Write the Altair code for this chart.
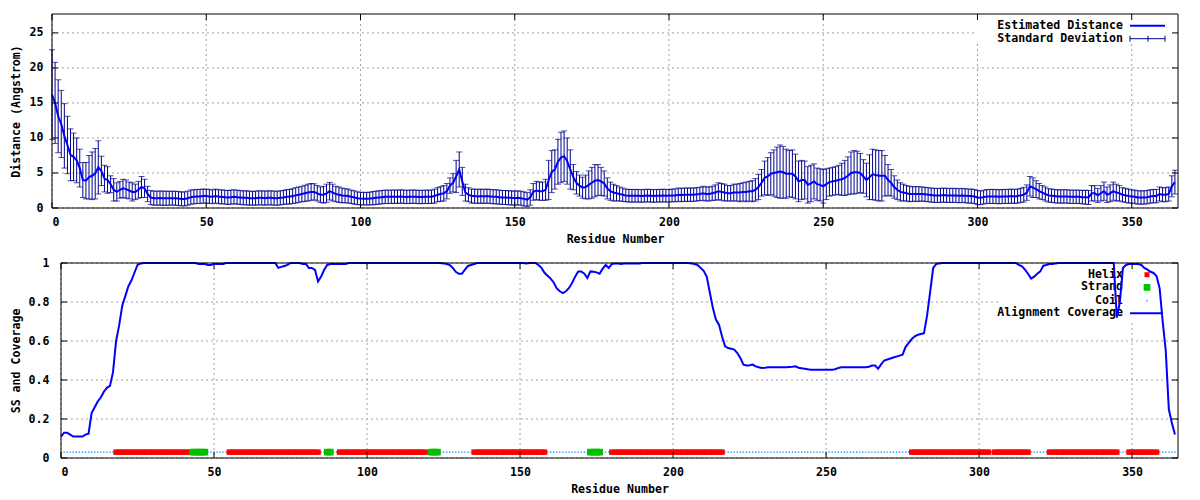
import altair as alt
import pandas as pd

# ---------------- data ----------------
MEAN_DIST = [
    16.2, 15.0, 13.1, 12.0, 10.3, 9.0, 7.6, 7.3, 6.8, 5.7,
    4.0, 3.9, 4.4, 4.6, 4.9, 5.8, 5.3, 4.2, 4.0, 3.4,
    2.6, 2.3, 2.6, 2.8, 2.7, 2.5, 2.3, 2.3, 2.6, 3.0,
    2.8, 2.0, 1.5, 1.4, 1.4, 1.42, 1.4, 1.38, 1.4, 1.4,
    1.4, 1.35, 1.3, 1.3, 1.4, 1.55, 1.6, 1.65, 1.65, 1.7,
    1.7, 1.65, 1.6, 1.7, 1.6, 1.6, 1.55, 1.5, 1.55, 1.6,
    1.55, 1.5, 1.45, 1.45, 1.4, 1.4, 1.4, 1.45, 1.45, 1.4,
    1.45, 1.45, 1.4, 1.4, 1.45, 1.5, 1.6, 1.6, 1.7, 1.8,
    1.9, 2.0, 2.1, 2.2, 2.3, 2.3, 2.1, 1.9, 1.9, 2.1,
    2.4, 2.2, 2.0, 1.9, 1.8, 1.75, 1.7, 1.6, 1.5, 1.4,
    1.35, 1.33, 1.33, 1.35, 1.4, 1.45, 1.5, 1.55, 1.6, 1.6,
    1.6, 1.62, 1.6, 1.65, 1.6, 1.58, 1.6, 1.62, 1.6, 1.57,
    1.57, 1.6, 1.6, 1.6, 1.7, 1.9, 2.0, 2.1, 2.4, 3.2,
    3.6, 4.5, 5.5, 3.8, 2.2, 1.9, 1.7, 1.7, 1.65, 1.7,
    1.65, 1.7, 1.65, 1.6, 1.6, 1.55, 1.5, 1.5, 1.45, 1.45,
    1.4, 1.45, 1.4, 1.3, 1.2, 1.5, 2.3, 2.5, 2.4, 2.4,
    2.6, 4.0, 5.2, 5.5, 6.6, 7.2, 7.4, 6.7, 5.5, 4.4,
    3.6, 3.2, 2.9, 3.0, 3.3, 3.6, 3.9, 4.0, 3.8, 3.5,
    2.8, 2.4, 2.2, 2.1, 2.0, 1.9, 1.8, 1.75, 1.75, 1.75,
    1.75, 1.72, 1.75, 1.78, 1.75, 1.72, 1.75, 1.75, 1.78, 1.75,
    1.75, 1.8, 1.8, 1.9, 1.85, 1.9, 1.9, 1.9, 1.9, 1.95,
    2.0, 2.1, 2.0, 2.0, 2.1, 2.2, 2.4, 2.3, 2.2, 2.1,
    2.1, 2.2, 2.2, 2.2, 2.3, 2.3, 2.4, 2.4, 2.6, 3.0,
    3.6, 4.3, 4.5, 4.9, 5.0, 5.1, 5.2, 5.1, 4.9, 4.9,
    4.9, 4.5, 3.8, 4.0, 4.0, 3.3, 3.5, 3.8, 3.4, 3.3,
    3.1, 3.4, 3.7, 3.8, 3.9, 4.0, 4.1, 4.3, 4.6, 5.0,
    5.1, 5.1, 5.0, 4.5, 4.0, 4.4, 4.8, 4.7, 4.6, 4.6,
    4.6, 4.0, 3.6, 3.0, 2.6, 2.3, 2.2, 2.1, 2.0, 2.0,
    2.0, 2.0, 2.0, 1.95, 1.9, 1.85, 1.8, 1.8, 1.8, 1.85,
    1.8, 1.8, 1.8, 1.8, 1.75, 1.8, 1.75, 1.7, 1.7, 1.65,
    1.5, 1.45, 1.55, 1.65, 1.65, 1.65, 1.65, 1.6, 1.65, 1.65,
    1.65, 1.7, 1.65, 1.7, 1.8, 1.9, 2.2, 3.1, 2.9, 2.7,
    2.4, 2.2, 2.0, 1.8, 1.75, 1.7, 1.65, 1.65, 1.65, 1.65,
    1.6, 1.6, 1.6, 1.6, 1.55, 1.55, 1.5, 2.1, 2.1, 1.8,
    2.1, 2.4, 1.9, 2.1, 2.4, 2.2, 2.1, 1.9, 1.8, 1.7,
    1.65, 1.6, 1.5, 1.5, 1.5, 1.55, 1.65, 1.7, 1.7, 2.0,
    1.9, 1.9, 2.0, 3.1, 3.7,
]

STD_DEV = [
    6.4, 5.8, 5.2, 4.8, 4.6, 4.1, 3.7, 3.4, 3.2, 2.7,
    2.5, 2.6, 3.1, 3.4, 3.6, 3.8, 2.1, 1.9, 1.9, 1.2,
    1.6, 1.3, 1.2, 1.3, 1.3, 1.2, 1.3, 1.1, 1.2, 1.5,
    1.3, 1.1, 1.0, 1.0, 1.0, 1.0, 1.02, 1.0, 1.0, 0.98,
    1.0, 1.0, 0.98, 1.0, 1.0, 1.02, 1.0, 1.0, 1.0, 1.0,
    1.0, 1.0, 0.98, 1.0, 1.0, 1.0, 0.98, 1.0, 1.0, 1.0,
    1.0, 0.98, 1.0, 1.0, 1.0, 0.98, 1.0, 1.0, 1.0, 1.0,
    1.0, 1.0, 1.0, 1.0, 1.0, 1.0, 1.02, 1.05, 1.05, 1.1,
    1.1, 1.1, 1.15, 1.2, 1.2, 1.15, 1.1, 1.1, 1.2, 1.3,
    1.25, 1.2, 1.1, 1.1, 1.05, 1.0, 1.0, 0.95, 0.95, 0.9,
    0.9, 0.9, 0.9, 0.9, 0.95, 0.95, 0.95, 0.95, 0.95, 0.95,
    0.95, 0.95, 0.95, 0.95, 0.95, 0.95, 0.95, 0.95, 0.95, 0.95,
    0.95, 0.95, 0.95, 0.95, 1.0, 1.0, 1.05, 1.1, 1.1, 1.1,
    1.3, 2.3, 2.5, 2.0, 1.2, 1.0, 1.0, 1.0, 1.0, 1.0,
    1.0, 1.0, 1.0, 1.0, 1.0, 1.0, 1.0, 1.0, 1.0, 1.0,
    1.0, 1.0, 1.0, 1.0, 1.0, 1.1, 1.2, 1.3, 1.3, 1.3,
    1.5, 2.8, 3.0, 2.8, 3.2, 3.6, 3.6, 3.3, 2.8, 1.8,
    1.6, 1.5, 1.5, 1.7, 2.0, 2.2, 2.3, 2.2, 2.0, 1.8,
    1.5, 1.3, 1.2, 1.1, 1.0, 0.95, 0.9, 0.9, 0.9, 0.9,
    0.9, 0.9, 0.9, 0.9, 0.9, 0.9, 0.9, 0.9, 0.9, 0.9,
    0.9, 0.9, 0.92, 0.95, 0.95, 0.95, 0.95, 0.95, 0.95, 0.95,
    0.95, 1.0, 1.0, 1.0, 1.0, 1.1, 1.2, 1.2, 1.2, 1.1,
    1.1, 1.2, 1.2, 1.3, 1.3, 1.4, 1.4, 1.5, 1.6, 1.8,
    1.9, 2.4, 2.7, 3.0, 3.3, 3.6, 3.8, 3.7, 3.5, 3.3,
    3.4, 3.2, 2.9, 2.8, 2.7, 2.6, 2.6, 2.5, 2.3, 2.3,
    2.4, 2.2, 2.0, 2.0, 2.0, 2.1, 2.3, 2.5, 2.7, 3.0,
    3.1, 3.0, 2.8, 2.4, 2.4, 3.2, 3.6, 3.6, 3.6, 3.6,
    2.9, 2.2, 1.9, 1.6, 1.4, 1.3, 1.2, 1.1, 1.1, 1.05,
    1.05, 1.05, 1.0, 1.0, 1.0, 1.0, 1.0, 1.0, 1.0, 1.0,
    1.0, 1.0, 1.0, 1.0, 1.0, 1.0, 1.0, 1.0, 1.0, 1.0,
    1.0, 0.98, 0.98, 0.98, 1.0, 1.0, 1.0, 1.0, 1.0, 1.0,
    1.0, 1.0, 1.0, 1.0, 1.0, 1.05, 1.1, 1.4, 1.4, 1.2,
    1.1, 1.0, 1.0, 0.95, 0.95, 0.95, 0.95, 0.95, 0.95, 0.95,
    0.95, 0.95, 0.95, 0.95, 0.95, 1.0, 1.0, 1.1, 1.1, 1.0,
    1.1, 1.3, 1.1, 1.2, 1.3, 1.2, 1.1, 1.0, 1.0, 1.0,
    0.95, 0.95, 0.95, 0.95, 0.95, 0.95, 0.95, 0.95, 0.95, 1.0,
    1.0, 1.0, 1.0, 1.5, 1.7,
]

COVERAGE = [
    0.11, 0.13, 0.13, 0.12, 0.11, 0.11, 0.11, 0.11, 0.12, 0.125,
    0.23, 0.26, 0.29, 0.31, 0.34, 0.36, 0.37, 0.44, 0.60, 0.68,
    0.78, 0.83, 0.88, 0.91, 0.95, 0.99, 0.997, 1.0, 1.0, 1.0,
    1.0, 1.0, 1.0, 1.0, 1.0, 1.0, 1.0, 1.0, 1.0, 1.0,
    1.0, 1.0, 1.0, 1.0, 1.0, 0.995, 0.995, 0.995, 0.99, 0.99,
    0.995, 0.995, 0.995, 0.995, 1.0, 1.0, 1.0, 1.0, 1.0, 1.0,
    1.0, 1.0, 1.0, 1.0, 1.0, 1.0, 1.0, 1.0, 1.0, 1.0,
    1.0, 0.975, 0.98, 0.985, 0.99, 1.0, 1.0, 1.0, 1.0, 0.995,
    0.995, 0.975, 0.975, 0.965, 0.905, 0.93, 0.965, 0.99, 0.995, 0.995,
    0.995, 0.995, 0.995, 0.995, 1.0, 1.0, 1.0, 1.0, 1.0, 1.0,
    1.0, 1.0, 1.0, 1.0, 1.0, 1.0, 1.0, 1.0, 1.0, 1.0,
    1.0, 1.0, 1.0, 1.0, 1.0, 1.0, 1.0, 1.0, 1.0, 1.0,
    1.0, 1.0, 1.0, 1.0, 1.0, 0.998, 0.995, 0.99, 0.975, 0.955,
    0.945, 0.945, 0.966, 0.985, 0.99, 0.995, 1.0, 1.0, 1.0, 1.0,
    1.0, 1.0, 1.0, 1.0, 1.0, 1.0, 1.0, 1.0, 1.0, 1.0,
    1.0, 1.0, 0.997, 1.0, 1.0, 1.0, 0.99, 0.975, 0.95, 0.935,
    0.92, 0.9, 0.87, 0.855, 0.846, 0.855, 0.872, 0.897, 0.93, 0.957,
    0.957, 0.945, 0.923, 0.957, 0.955, 0.952, 0.945, 0.971, 0.99, 0.974,
    0.995, 0.997, 0.997, 0.995, 0.997, 0.997, 0.997, 0.997, 0.997, 0.997,
    1.0, 1.0, 1.0, 1.0, 1.0, 1.0, 1.0, 1.0, 1.0, 1.0,
    1.0, 1.0, 1.0, 1.0, 1.0, 1.0, 0.998, 0.995, 0.99, 0.975,
    0.96, 0.93, 0.85, 0.77, 0.71, 0.684, 0.624, 0.573, 0.564, 0.56,
    0.556, 0.538, 0.513, 0.479, 0.474, 0.476, 0.479, 0.47, 0.465, 0.462,
    0.463, 0.465, 0.465, 0.465, 0.465, 0.465, 0.465, 0.466, 0.467, 0.468,
    0.47, 0.463, 0.46, 0.458, 0.455, 0.453, 0.453, 0.453, 0.453, 0.453,
    0.453, 0.453, 0.453, 0.455, 0.462, 0.465, 0.465, 0.465, 0.465, 0.465,
    0.465, 0.465, 0.465, 0.465, 0.468, 0.474, 0.474, 0.458, 0.48, 0.5,
    0.505, 0.51, 0.515, 0.52, 0.525, 0.53, 0.57, 0.59, 0.61, 0.624,
    0.632, 0.636, 0.64, 0.73, 0.85, 0.975, 0.995, 0.998, 1.0, 1.0,
    1.0, 1.0, 1.0, 1.0, 1.0, 1.0, 1.0, 1.0, 1.0, 1.0,
    1.0, 1.0, 1.0, 1.0, 1.0, 1.0, 1.0, 1.0, 1.0, 1.0,
    1.0, 1.0, 1.0, 0.99, 0.983, 0.966, 0.945, 0.92, 0.93, 0.945,
    0.957, 0.986, 0.99, 0.995, 0.995, 0.998, 1.0, 1.0, 1.0, 1.0,
    1.0, 1.0, 1.0, 1.0, 1.0, 1.0, 1.0, 1.0, 1.0, 1.0,
    1.0, 1.0, 1.0, 1.0, 1.0, 0.72, 0.80, 0.974, 0.99, 0.995,
    0.995, 0.995, 0.995, 0.99, 0.975, 0.966, 0.955, 0.949, 0.932, 0.87,
    0.70, 0.55, 0.25, 0.18, 0.12,
]

HELIX_START = [18, 55, 91, 135, 180, 278, 305, 323, 349]
HELIX_END = [42, 84, 119, 158, 216, 303, 316, 345, 358]
STRAND_START = [43, 87, 121, 173]
STRAND_END = [47, 88, 123, 176]
SS_LEVEL = 0.03

X_TICKS = [0, 50, 100, 150, 200, 250, 300, 350]
Y_TICKS_TOP = [0, 5, 10, 15, 20, 25]
Y_TICKS_BOT = [0, 0.2, 0.4, 0.6, 0.8, 1]
LEGEND_TOP = ["Estimated Distance", "Standard Deviation"]
LEGEND_BOT = ["Helix", "Strand", "Coil", "Alignment Coverage"]

# ---------------- tables ----------------
n = min(len(MEAN_DIST), len(STD_DEV))
dist_df = pd.DataFrame({"res": list(range(n)), "mean": MEAN_DIST[:n], "std": STD_DEV[:n]})
dist_df["lo"] = (dist_df["mean"] - dist_df["std"]).clip(lower=0)
dist_df["hi"] = dist_df["mean"] + dist_df["std"]

cov_df = pd.DataFrame({"res": list(range(len(COVERAGE))), "cov": COVERAGE})

ss_type = {}
for s, e in zip(HELIX_START, HELIX_END):
    for r in range(s, e + 1):
        ss_type[r] = "Helix"
for s, e in zip(STRAND_START, STRAND_END):
    for r in range(s, e + 1):
        ss_type[r] = "Strand"
ss_df = pd.DataFrame({
    "res": list(range(len(COVERAGE))),
    "ss": [ss_type.get(r, "Coil") for r in range(len(COVERAGE))],
})
ss_df["lvl"] = SS_LEVEL

xt_df = pd.DataFrame({"t": X_TICKS})
yt_top_df = pd.DataFrame({"t": Y_TICKS_TOP})
yt_bot_df = pd.DataFrame({"t": Y_TICKS_BOT})
one = pd.DataFrame({"k": [0]})

# ---------------- style / layout ----------------
FONT = "DejaVu Sans Mono"
FS = 11.6
NAVY = "#00008b"
BLUE = "#0000ff"
RED = "#ff0000"
GREEN = "#00c000"
COIL = "#1e90ff"
GRID = "#a0a0a0"

W = 1126            # plot group width (both panels end at the same right edge)
TOP_H = 194         # top panel: 0 .. 194
BOT_Y0, BOT_Y1 = 249, 444   # bottom panel
BOT_X0 = 9          # bottom panel starts 9px right of the top one
H = BOT_Y1

xs_top = alt.Scale(domain=[0, 365], range=[0, W], nice=False, zero=False)
ys_top = alt.Scale(domain=[0, 27.7], range=[TOP_H, 0], nice=False, zero=False)
xs_bot = alt.Scale(domain=[0, 365], range=[BOT_X0, W], nice=False, zero=False)
ys_bot = alt.Scale(domain=[0, 1], range=[BOT_Y1, BOT_Y0], nice=False, zero=False)


def x_axis(offset):
    return alt.Axis(orient="bottom", offset=offset, values=X_TICKS, grid=False, ticks=False,
                    tickSize=0, domain=False, labelPadding=8, title="Residue Number",
                    titlePadding=6)


def y_axis(values, title, offset, pad, extent, fmt):
    return alt.Axis(orient="left", offset=offset, values=values, grid=False, ticks=False,
                    tickSize=0, domain=False, labelPadding=pad, format=fmt,
                    minExtent=extent, maxExtent=extent, title=title, titlePadding=8)


def vgrid(xs, y0, y1, axis):
    return alt.Chart(xt_df).mark_rule(color=GRID, strokeWidth=1, strokeDash=[2, 3]).encode(
        x=alt.X("t:Q", scale=xs, axis=axis), y=alt.value(y0), y2=alt.value(y1))


def hgrid(df, ys, x0, x1, axis):
    return alt.Chart(df).mark_rule(color=GRID, strokeWidth=1, strokeDash=[2, 3]).encode(
        y=alt.Y("t:Q", scale=ys, axis=axis), x=alt.value(x0), x2=alt.value(x1))


def xticks(xs, y0, y1):
    return alt.Chart(xt_df).mark_rule(color="black", strokeWidth=1).encode(
        x=alt.X("t:Q", scale=xs, axis=None), y=alt.value(y0), y2=alt.value(y1))


def yticks(df, ys, x0, x1):
    return alt.Chart(df).mark_rule(color="black", strokeWidth=1).encode(
        y=alt.Y("t:Q", scale=ys, axis=None), x=alt.value(x0), x2=alt.value(x1))


def text_at(label, x, y):
    return alt.Chart(pd.DataFrame({"label": [label]})).mark_text(
        align="right", baseline="middle", font=FONT, fontSize=FS, fontWeight="bold", color="black"
    ).encode(x=alt.value(x), y=alt.value(y), text="label:N")


def hrule(x1, x2, y, color, w):
    return alt.Chart(one).mark_rule(color=color, strokeWidth=w).encode(
        x=alt.value(x1), x2=alt.value(x2), y=alt.value(y))


def vrule(x, y1, y2, color, w):
    return alt.Chart(one).mark_rule(color=color, strokeWidth=w).encode(
        x=alt.value(x), y=alt.value(y1), y2=alt.value(y2))


def box(x1, x2, y1, y2, **kw):
    return alt.Chart(one).mark_rect(**kw).encode(
        x=alt.value(x1), x2=alt.value(x2), y=alt.value(y1), y2=alt.value(y2))


def sym(x, y, size, color):
    return alt.Chart(one).mark_square(size=size, color=color, opacity=1).encode(
        x=alt.value(x), y=alt.value(y))


layers = []

# grids + labelled axes
layers.append(vgrid(xs_top, 0, TOP_H, x_axis(-(H - TOP_H))))
layers.append(hgrid(yt_top_df, ys_top, 0, W,
                    y_axis(Y_TICKS_TOP, "Distance (Angstrom)", 0, 9, 23, "d")))
layers.append(vgrid(xs_bot, BOT_Y0, BOT_Y1, x_axis(0)))
layers.append(hgrid(yt_bot_df, ys_bot, BOT_X0, W,
                    y_axis(Y_TICKS_BOT, "SS and Coverage", -BOT_X0, 12, 32, "~g")))

# opaque key boxes (hide the grid like the reference)
layers.append(box(925, W - 1, 1, 29, color="white"))
layers.append(box(947, W - 1, BOT_Y0 + 1, BOT_Y0 + 57, color="white"))

# ---- top panel marks ----
layers.append(alt.Chart(dist_df).mark_rule(color=NAVY, strokeWidth=1).encode(
    x=alt.X("res:Q", scale=xs_top, axis=None),
    y=alt.Y("lo:Q", scale=ys_top, axis=None),
    y2="hi:Q",
))
layers.append(alt.Chart(dist_df).transform_fold(["lo", "hi"], as_=["kind", "val"]).mark_tick(
    orient="horizontal", size=6, thickness=1, color=NAVY
).encode(
    x=alt.X("res:Q", scale=xs_top, axis=None),
    y=alt.Y("val:Q", scale=ys_top, axis=None),
))
layers.append(alt.Chart(dist_df).mark_line(color=BLUE, strokeWidth=2).encode(
    x=alt.X("res:Q", scale=xs_top, axis=None),
    y=alt.Y("mean:Q", scale=ys_top, axis=None),
))

# top key
layers += [
    text_at(LEGEND_TOP[0], 1071, 11.7), text_at(LEGEND_TOP[1], 1071, 24.7),
    hrule(1078, 1113, 11.7, BLUE, 2),
    hrule(1078, 1113, 24.7, NAVY, 1),
    vrule(1078, 21.7, 27.7, NAVY, 1), vrule(1096, 21.7, 27.7, NAVY, 1),
    vrule(1113, 21.7, 27.7, NAVY, 1),
]

# ---- bottom panel marks ----
for kind, size, color in [("Coil", 2, COIL), ("Helix", 30, RED), ("Strand", 45, GREEN)]:
    layers.append(alt.Chart(ss_df).transform_filter(alt.datum.ss == kind).mark_square(
        size=size, color=color, opacity=1).encode(
        x=alt.X("res:Q", scale=xs_bot, axis=None),
        y=alt.Y("lvl:Q", scale=ys_bot, axis=None),
    ))

# bottom key
ky = [BOT_Y0 + 11.7, BOT_Y0 + 24.4, BOT_Y0 + 37.7, BOT_Y0 + 50.3]
layers += [text_at(LEGEND_BOT[i], 1071, ky[i]) for i in range(4)]
layers += [sym(1095, ky[0], 25, RED), sym(1095, ky[1], 45, GREEN), sym(1095, ky[2], 2, COIL),
           hrule(1078, 1111, ky[3], BLUE, 2)]

layers.append(alt.Chart(cov_df).mark_line(color=BLUE, strokeWidth=2).encode(
    x=alt.X("res:Q", scale=xs_bot, axis=None),
    y=alt.Y("cov:Q", scale=ys_bot, axis=None),
))

# inward tick marks on all four sides of both panels
layers += [
    xticks(xs_top, 0, 6), xticks(xs_top, TOP_H - 6, TOP_H),
    yticks(yt_top_df, ys_top, 0, 6), yticks(yt_top_df, ys_top, W - 6, W),
    xticks(xs_bot, BOT_Y0, BOT_Y0 + 6), xticks(xs_bot, BOT_Y1 - 6, BOT_Y1),
    yticks(yt_bot_df, ys_bot, BOT_X0, BOT_X0 + 6), yticks(yt_bot_df, ys_bot, W - 6, W),
]

# panel frames
layers.append(box(0, W, 0, TOP_H, filled=False, stroke="black", strokeWidth=1))
layers.append(box(BOT_X0, W, BOT_Y0, BOT_Y1, filled=False, stroke="black", strokeWidth=1))

chart = alt.layer(*layers).resolve_scale(
    x="independent", y="independent"
).resolve_axis(
    x="independent", y="independent"
).properties(
    width=W, height=H,
    autosize=alt.AutoSizeParams(type="none"),
    padding={"left": 44, "top": 6, "right": 14, "bottom": 40},
).configure_view(strokeWidth=0).configure_axis(
    labelFont=FONT, titleFont=FONT, labelFontSize=FS, titleFontSize=FS,
    labelFontWeight="bold", titleFontWeight="bold", labelColor="black", titleColor="black"
)

chart.save("out.html", embed_options={"renderer": "svg", "actions": False})
